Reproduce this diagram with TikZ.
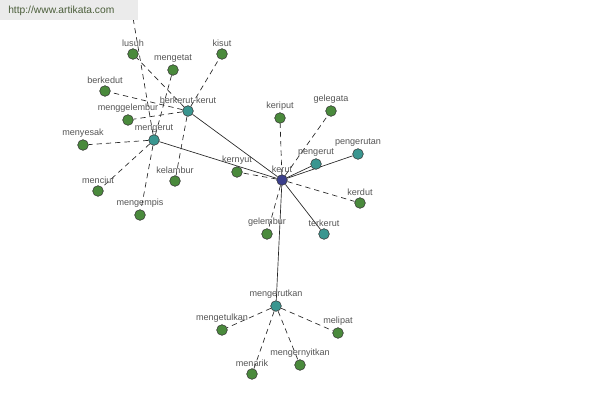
\documentclass[tikz,border=0pt]{standalone}
\usepackage{fontspec}
\setmainfont{Liberation Sans}
\usepackage{tikz}
\usetikzlibrary{backgrounds}
\definecolor{daun}{HTML}{4A8A3C}
\definecolor{toska}{HTML}{3A9690}
\definecolor{nila}{HTML}{3B3F8C}
\definecolor{teks}{HTML}{555555}
\definecolor{situs}{HTML}{4B5E3A}
\tikzstyle{no1}=[circle, draw = black!80, fill = daun, inner sep = 0pt, minimum size = 8pt, label distance = -1pt]
\tikzstyle{no2}=[no1, fill = toska]
\tikzstyle{no3}=[no1, fill = nila]
\tikzstyle{tepi}=[draw = black!85, line width = .5pt]
\tikzstyle{putus}=[tepi, dash pattern = on 4pt off 3pt]

\begin{document}
\begin{tikzpicture}[x=.75pt, y=-.75pt,
  every label/.style={font=\fontsize{6.8}{7}\selectfont, text=teks, inner sep=1pt}]
  \useasboundingbox (0,0) rectangle (600,400);
  % pusat
  \node[no3, label=above:kerut] (kerut) at (282,180) {};
  \node[no2, label=above:mengerut] (mengerut) at (154,140) {};
  \node[no2, label=above:berkerut-kerut] (berkerut) at (188,111) {};
  \node[no2, label=above:pengerut] (pengerut) at (316,164) {};
  \node[no2, label=above:pengerutan] (pengerutan) at (358,154) {};
  \node[no2, label=above:terkerut] (terkerut) at (324,234) {};
  \node[no2, label=above:mengerutkan] (mengerutkan) at (276,306) {};
  % daun kiri atas
  \node[no1, label=above:lusuh] (lusuh) at (133,54) {};
  \node[no1, label=above:mengetat] (mengetat) at (173,70) {};
  \node[no1, label=above:kisut] (kisut) at (222,54) {};
  \node[no1, label=above:berkedut] (berkedut) at (105,91) {};
  \node[no1, label=above:menggelembur] (menggelembur) at (128,120) {};
  \node[no1, label=above:menyesak] (menyesak) at (83,145) {};
  \node[no1, label=above:menciut] (menciut) at (98,191) {};
  \node[no1, label=above:mengempis] (mengempis) at (140,215) {};
  \node[no1, label=above:kelambur] (kelambur) at (175,181) {};
  \coordinate (atas) at (131,6);
  % daun sekitar kerut
  \node[no1, label=above:kernyut] (kernyut) at (237,172) {};
  \node[no1, label=above:keriput] (keriput) at (280,118) {};
  \node[no1, label=above:gelegata] (gelegata) at (331,111) {};
  \node[no1, label=above:kerdut] (kerdut) at (360,203) {};
  \node[no1, label=above:gelembur] (gelembur) at (267,234) {};
  % daun bawah
  \node[no1, label=above:mengetulkan] (mengetulkan) at (222,330) {};
  \node[no1, label=above:menarik] (menarik) at (252,374) {};
  \node[no1, label=above:mengernyitkan] (mengernyitkan) at (300,365) {};
  \node[no1, label=above:melipat] (melipat) at (338,333) {};

  \begin{pgfonlayer}{background}
  \draw[tepi] (kerut) -- (mengerut);
  \draw[tepi] (kerut) -- (berkerut);
  \draw[tepi] (kerut) -- (pengerut);
  \draw[tepi] (kerut) -- (pengerutan);
  \draw[tepi] (kerut) -- (terkerut);
  \draw[tepi] (kerut) -- (mengerutkan);
  \draw[putus] (kerut) -- (kernyut);
  \draw[putus] (kerut) -- (keriput);
  \draw[putus] (kerut) -- (gelegata);
  \draw[putus] (kerut) -- (kerdut);
  \draw[putus] (kerut) -- (gelembur);
  \draw[putus] (mengerut) -- (atas);
  \draw[putus] (mengerut) -- (mengetat);
  \draw[putus] (mengerut) -- (menyesak);
  \draw[putus] (mengerut) -- (menciut);
  \draw[putus] (mengerut) -- (mengempis);
  \draw[putus] (berkerut) -- (lusuh);
  \draw[putus] (berkerut) -- (kisut);
  \draw[putus] (berkerut) -- (berkedut);
  \draw[putus] (berkerut) -- (menggelembur);
  \draw[putus] (berkerut) -- (kelambur);
  \draw[putus] (mengerutkan) -- (mengetulkan);
  \draw[putus] (mengerutkan) -- (menarik);
  \draw[putus] (mengerutkan) -- (mengernyitkan);
  \draw[putus] (mengerutkan) -- (melipat);
  \end{pgfonlayer}

  % tanda air
  \fill[black!8] (0,0) rectangle (138,20);
  \node[anchor=west, inner sep=0pt, text=situs, font=\fontsize{7.7}{8}\selectfont] (web) at (8,11)
    {http://www.artikata.com};
\end{tikzpicture}
\end{document}
